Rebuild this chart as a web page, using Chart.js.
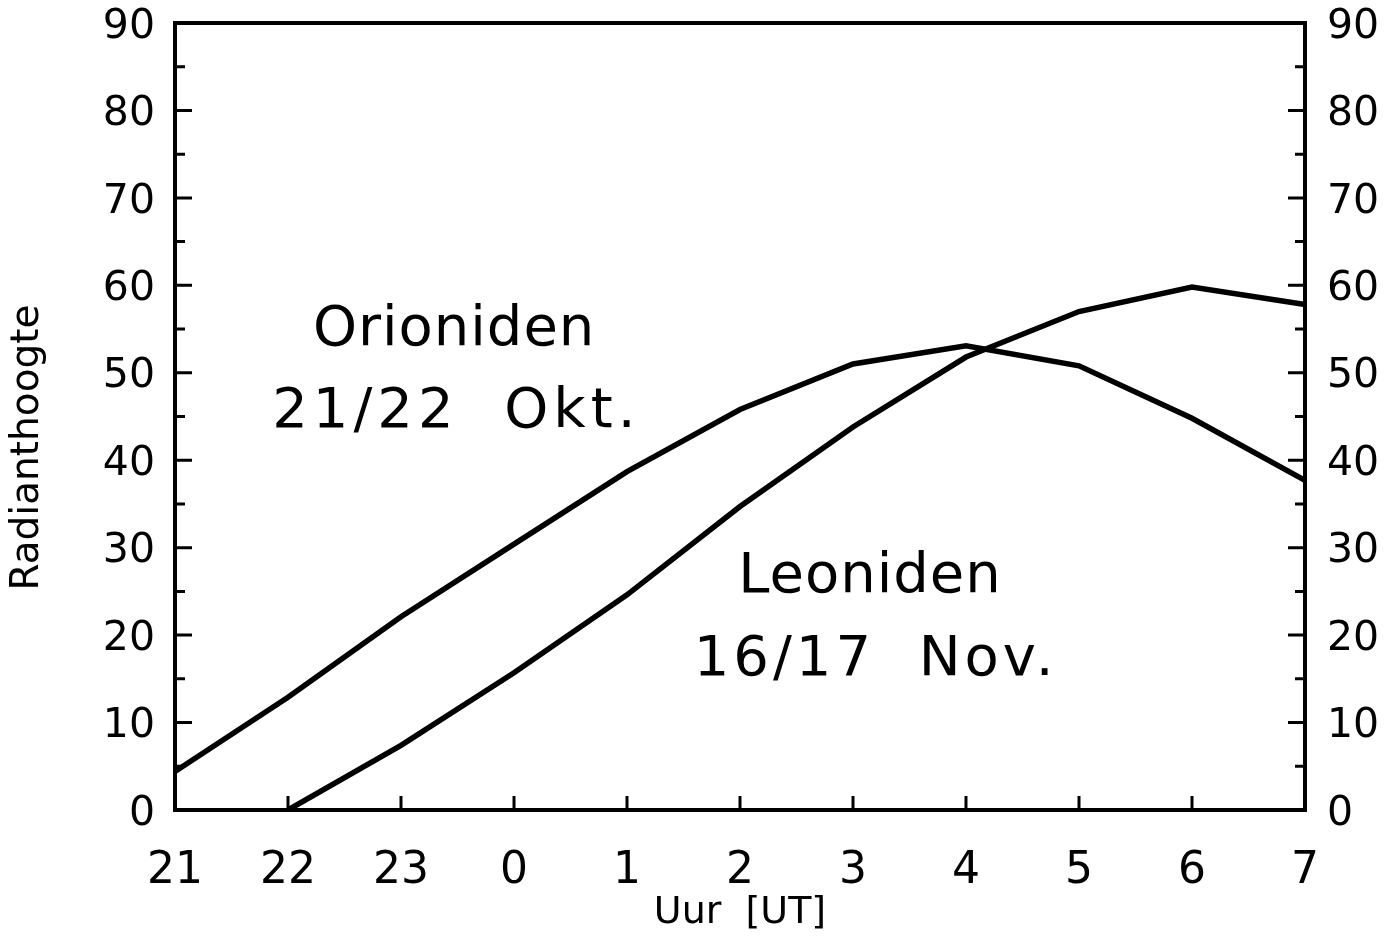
<!DOCTYPE html>
<html>
<head>
<meta charset="utf-8">
<script src="https://cdn.jsdelivr.net/npm/chart.js@4.4.1/dist/chart.umd.min.js"></script>
<style>
    html, body { margin: 0; padding: 0; background: #fff; }
    #wrap { width: 1397px; height: 936px; }
</style>
</head>
<body>
<div id="wrap"><canvas id="chart" width="1397" height="936"></canvas></div>
<script>
// hours (UT) on the x axis
const hours = ['21', '22', '23', '0', '1', '2', '3', '4', '5', '6', '7']
// radiant height in degrees
const orioniden = [4.4, 12.9, 22.1, 30.4, 38.7, 45.8, 51.0, 53.1, 50.8, 44.8, 37.7]
const leoniden = [null, 0, 7.4, 15.7, 24.6, 34.7, 43.8, 51.8, 57.0, 59.8, 57.8]
const yTicks = [0, 10, 20, 30, 40, 50, 60, 70, 80, 90]
const yMinorTicks = [5, 15, 25, 35, 45, 55, 65, 75, 85]
const seriesNames = ['Orioniden', '21/22  Okt.', 'Leoniden', '16/17  Nov.']

const FONT = "'DejaVu Sans', sans-serif"

// frame, inward ticks and the series names
const framePlugin = {
    id: 'frame',
    afterDraw(chart) {
        const ctx = chart.ctx
        const area = chart.chartArea
        const x = chart.scales.x
        const y = chart.scales.y
        ctx.save()
        ctx.strokeStyle = '#000'
        ctx.lineWidth = 4
        ctx.strokeRect(area.left, area.top, area.right - area.left, area.bottom - area.top)

        // y ticks on both sides, pointing inward
        ctx.lineWidth = 3
        yTicks.concat(yMinorTicks).forEach(v => {
            const py = y.getPixelForValue(v)
            const len = yTicks.includes(v) ? 17 : 10
            ctx.beginPath()
            ctx.moveTo(area.left, py)
            ctx.lineTo(area.left + len, py)
            ctx.moveTo(area.right, py)
            ctx.lineTo(area.right - len, py)
            ctx.stroke()
        })
        // x ticks pointing up
        hours.forEach((h, i) => {
            const px = x.getPixelForValue(i)
            ctx.beginPath()
            ctx.moveTo(px, area.bottom)
            ctx.lineTo(px, area.bottom - 14)
            ctx.stroke()
        })

        // name labels: [x index, y degrees at baseline, letter spacing]
        const place = [[2.47, 53.2, 1], [2.49, 43.8, 5], [6.15, 24.9, 1], [6.2, 15.4, 4]]
        ctx.fillStyle = '#000'
        ctx.font = '56px ' + FONT
        ctx.textAlign = 'center'
        ctx.textBaseline = 'alphabetic'
        seriesNames.forEach((t, i) => {
            ctx.letterSpacing = place[i][2] + 'px'
            ctx.fillText(t, x.getPixelForValue(place[i][0]), y.getPixelForValue(place[i][1]))
        })
        ctx.restore()
    }
}

function noPad(scale) {
    scale.paddingTop = 0
    scale.paddingBottom = 0
    scale.paddingLeft = 0
    scale.paddingRight = 0
}

const ctx = document.getElementById('chart').getContext('2d')
new Chart(ctx, {
    type: 'line',
    data: {
        labels: hours,
        datasets: [
            {
                label: 'Orioniden',
                data: orioniden,
                borderColor: '#000',
                borderWidth: 5.5,
                pointRadius: 0,
                tension: 0
            },
            {
                label: 'Leoniden',
                data: leoniden,
                borderColor: '#000',
                borderWidth: 5.5,
                pointRadius: 0,
                tension: 0
            }
        ]
    },
    options: {
        responsive: false,
        animation: false,
        layout: { padding: { top: 23, left: 0, right: 0, bottom: 0 } },
        plugins: {
            legend: { display: false },
            tooltip: { enabled: false }
        },
        scales: {
            x: {
                type: 'category',
                offset: false,
                grid: { display: false, drawTicks: false },
                border: { display: false },
                ticks: {
                    color: '#000',
                    font: { family: FONT, size: 44 },
                    padding: 35,
                    maxRotation: 0,
                    autoSkip: false
                },
                title: {
                    display: true,
                    text: 'Uur  [UT]',
                    color: '#000',
                    font: { family: FONT, size: 38 },
                    padding: { top: 0, bottom: 0 }
                },
                afterFit(scale) { scale.height = 126; noPad(scale) }
            },
            y: {
                position: 'left',
                min: 0,
                max: 90,
                grid: { display: false, drawTicks: false },
                border: { display: false },
                ticks: {
                    stepSize: 10,
                    color: '#000',
                    font: { family: FONT, size: 41 },
                    padding: 20,
                    labelOffset: 4
                },
                title: {
                    display: true,
                    text: 'Radianthoogte     ',
                    color: '#000',
                    font: { family: FONT, size: 39 },
                    padding: { top: 4, bottom: 0 }
                },
                afterFit(scale) { scale.width = 175; noPad(scale) }
            },
            y2: {
                position: 'right',
                min: 0,
                max: 90,
                grid: { display: false, drawTicks: false },
                border: { display: false },
                ticks: {
                    stepSize: 10,
                    color: '#000',
                    font: { family: FONT, size: 41 },
                    padding: 22,
                    labelOffset: 4
                },
                afterFit(scale) { scale.width = 92; noPad(scale) }
            }
        }
    },
    plugins: [framePlugin]
})
</script>
</body>
</html>
